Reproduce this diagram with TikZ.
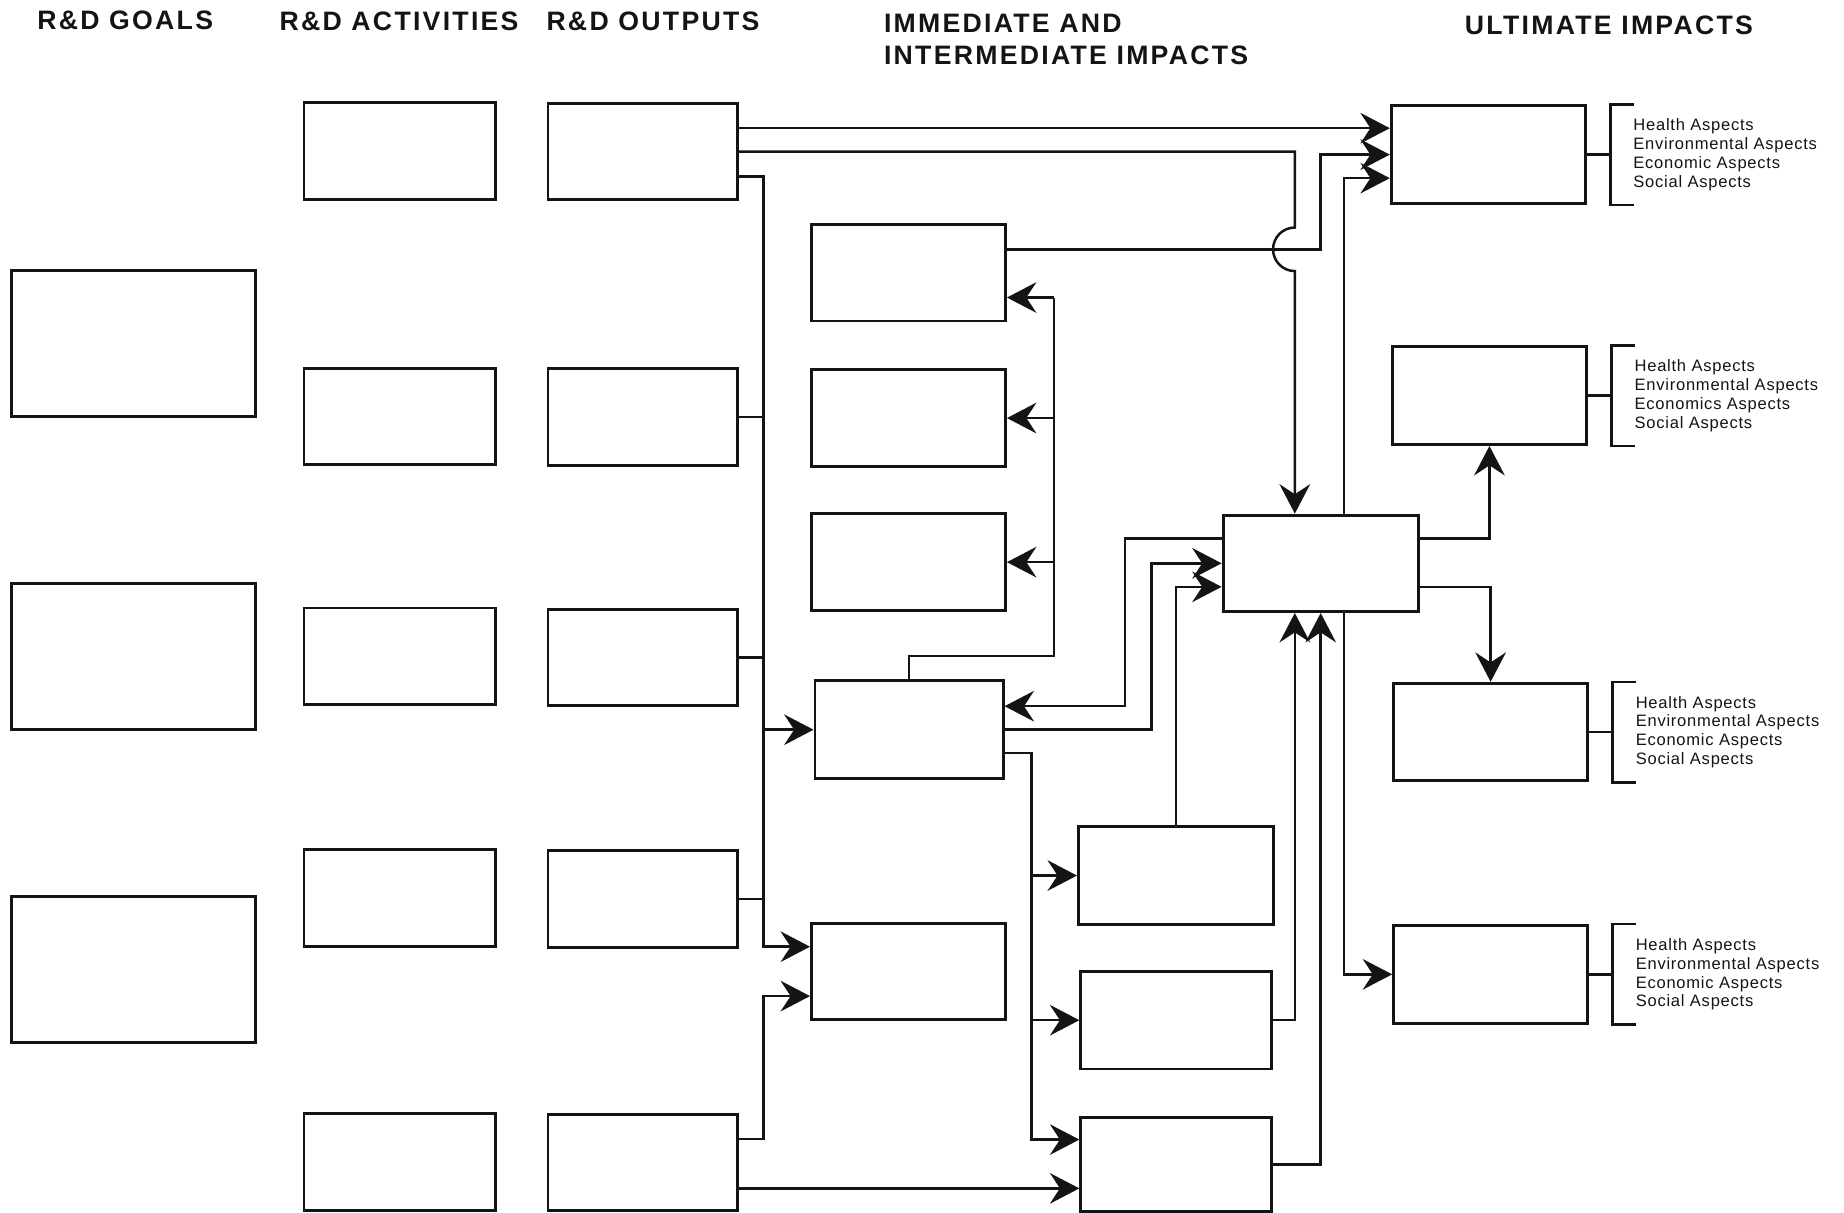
\documentclass[tikz,border=0pt]{standalone}
\usepackage{fontspec}
\setmainfont{Liberation Sans}
\newfontfamily\rdheadfont{Liberation Sans}[LetterSpace=8.5]
\newfontfamily\rdaspectfont{Liberation Sans}[LetterSpace=4.6]
\usetikzlibrary{arrows.meta,calc}
\definecolor{rdink}{HTML}{141414}

\begin{document}
\begin{tikzpicture}[x=1cm,y=1cm,
  rdbox/.style={draw=rdink,line width=0.7pt,inner sep=0pt,minimum width=1.63cm,minimum height=0.82cm},
  rdgoal/.style={rdbox,minimum width=2.07cm,minimum height=1.24cm},
  rdline/.style={draw=rdink,line width=0.6pt},
  rdflow/.style={rdline,-{Stealth[length=2.5mm,width=2.6mm,inset=0.85mm]}},
  rdhead/.style={anchor=base west,inner sep=0pt,text=rdink,
    font=\rdheadfont\bfseries\fontsize{6.45}{7.7}\selectfont},
  rdaspect/.style={anchor=west,inner sep=0pt,align=left,text=rdink,
    font=\rdaspectfont\fontsize{4}{4.55}\selectfont}]
  \fill[white] (0,-10.31) rectangle (15.68,0);
  \path[use as bounding box] (0,-10.31) rectangle (15.68,0);

  % column headings
  \node[rdhead] (hgoals) at (0.31,-0.25) {R\&D GOALS};
  \node[rdhead] (hact) at (2.37,-0.26) {R\&D ACTIVITIES};
  \node[rdhead] (hout) at (4.64,-0.26) {R\&D OUTPUTS};
  \node[rdhead] (himm) at (7.51,-0.28) {IMMEDIATE AND};
  \node[rdhead] (hint) at (7.51,-0.55) {INTERMEDIATE IMPACTS};
  \node[rdhead] (hult) at (12.45,-0.29) {ULTIMATE IMPACTS};

  % empty boxes, column by column
  \foreach \n/\y in {1/2.92,2/5.58,3/8.245}
    {\node[rdgoal] (g\n) at (1.135,-\y) {};}
  \foreach \n/\y in {1/1.285,2/3.54,3/5.58,4/7.635,5/9.88}
    {\node[rdbox] (a\n) at (3.40,-\y) {};}
  \foreach \n/\y in {1/1.29,2/3.545,3/5.59,4/7.645,5/9.885}
    {\node[rdbox,minimum width=1.61cm] (o\n) at (5.465,-\y) {};}
  \foreach \n/\y in {1/2.32,2/3.555,3/4.78,5/8.26}
    {\node[rdbox,minimum width=1.65cm] (im\n) at (7.725,-\y) {};}
  \node[rdbox,minimum width=1.60cm,minimum height=0.83cm] (im4) at (7.73,-6.205) {};
  \node[rdbox,minimum width=1.66cm,minimum height=0.83cm] (im6) at (10.0,-7.445) {};
  \node[rdbox,minimum width=1.62cm,minimum height=0.83cm] (im7) at (10.0,-8.675) {};
  \node[rdbox,minimum width=1.62cm,minimum height=0.80cm] (im8) at (10.0,-9.90) {};
  \node[rdbox,minimum width=1.66cm] (c) at (11.23,-4.79) {};
  \foreach \n/\x/\y in {1/12.655/1.315,2/12.665/3.365,3/12.675/6.225,4/12.675/8.285}
    {\node[rdbox,minimum width=1.65cm,minimum height=0.83cm] (u\n) at (\x,-\y) {};}

  % aspect lists behind a bracket
  \foreach \u/\econ in {u1/Economic,u2/Economics,u3/Economic,u4/Economic}
    {\draw[rdline] (\u.east) -- ++(2mm,0);
     \draw[rdline] ([xshift=4mm]\u.north east) -- ++(-2mm,0) |- ([xshift=4mm]\u.south east);
     \node[rdaspect] (\u-txt) at ([xshift=3.9mm]\u.east)
       {Health Aspects\\Environmental Aspects\\\econ{} Aspects\\Social Aspects};}

  \coordinate (obus) at ([xshift=2.1mm,yshift=-2.1mm]o1.east);
  \coordinate (cin1) at ([xshift=-2.2mm]c.north);
  \coordinate (im1out) at ([yshift=2mm]im1.east);
  \coordinate (hop) at (cin1 |- im1out);
  \coordinate (im1in) at ([yshift=-2.1mm]im1.east);
  \coordinate (fbus) at ([xshift=4mm]im2.east);
  \coordinate (im4out) at ([yshift=-2mm]im4.east);
  \coordinate (o5up) at ([yshift=2mm]o5.east);
  \coordinate (o5lo) at ([yshift=-2.2mm]o5.east);
  \coordinate (im5lo) at ([yshift=-2.1mm]im5.west);

  % outputs onto the left bus
  \draw[rdflow] ([yshift=-2.1mm]o1.east) -- (obus) |- ([yshift=2.1mm]im5.west);
  \foreach \o in {o2,o3,o4}
    {\draw[rdline] (\o.east) -- (obus |- \o.east);}
  \draw[rdflow] (obus |- im4.west) -- (im4.west);
  \draw[rdflow] (o5up) -- (obus |- o5up) |- (im5lo);
  \draw[rdflow] (o5lo) -- (o5lo -| im8.west);

  % top lines to the first ultimate box, one hops over the other
  \draw[rdflow] ([yshift=2mm]o1.east) -- ([yshift=2mm]o1.east -| u1.west);
  \draw[rdflow] (o1.east) -- (o1.east -| cin1) -- ([yshift=1.85mm]hop)
    arc[start angle=90,end angle=270,radius=1.85mm] -- (cin1);
  \draw[rdflow] (im1out) -- (im1out -| c.north) |- (u1.west);
  \draw[rdflow] ([xshift=2mm]c.north) |- ([yshift=-2mm]u1.west);

  % feedback from the fourth box
  \draw[rdline] (im4.north) -- ++(0,2mm) -| (fbus |- im1in);
  \draw[rdflow] (fbus |- im1in) -- (im1in);
  \foreach \b in {im2,im3}
    {\draw[rdflow] (fbus |- \b.east) -- (\b.east);}
  \draw[rdflow] ([yshift=2.1mm]c.west) -- ++(-0.82,0) |- ([yshift=2mm]im4.east);
  \draw[rdflow] (im4.east) -- ++(1.25,0) |- (c.west);
  \draw[rdflow] (im4out) -- ++(0.23,0) coordinate (dbus) |- ([yshift=2.1mm]im8.west);
  \foreach \b in {im6,im7}
    {\draw[rdflow] (dbus |- \b.west) -- (\b.west);}

  % into and out of the central box
  \draw[rdflow] (im6.north) |- ([yshift=-2mm]c.west);
  \draw[rdflow] (im7.east) -| ([xshift=-2.2mm]c.south);
  \draw[rdflow] (im8.east) -| (c.south);
  \draw[rdflow] ([xshift=2mm]c.south) |- (u4.west);
  \draw[rdflow] ([yshift=2.1mm]c.east) -| (u2.south);
  \draw[rdflow] ([yshift=-2mm]c.east) -| (u3.north);
\end{tikzpicture}
\end{document}
